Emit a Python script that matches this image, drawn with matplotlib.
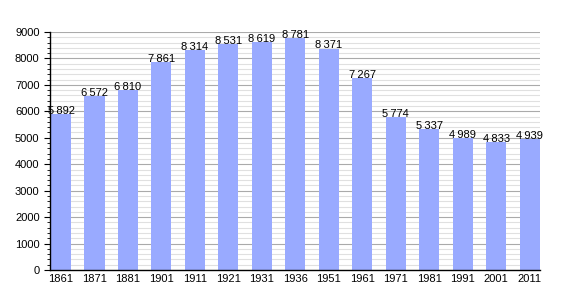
import matplotlib
matplotlib.use("Agg")
import matplotlib.pyplot as plt
import numpy as np
from matplotlib.ticker import MultipleLocator

plt.rcParams["font.family"] = ["Liberation Sans", "DejaVu Sans"]

years = ["1861", "1871", "1881", "1901", "1911", "1921", "1931", "1936",
         "1951", "1961", "1971", "1981", "1991", "2001", "2011"]
population = [5892, 6572, 6810, 7861, 8314, 8531, 8619, 8781,
              8371, 7267, 5774, 5337, 4989, 4833, 4939]

fig = plt.figure(figsize=(5.7, 3.0), dpi=100)
ax = fig.add_axes([50 / 570, 30 / 300, 490 / 570, 238 / 300])

x = np.arange(len(years))
ax.bar(x, population, width=0.6, color="#99aaff", zorder=3)

for xi, v in zip(x, population):
    label = f"{v:,}".replace(",", "\u2009")
    ax.text(xi, v - 70, label, ha="center", va="bottom", fontsize=8,
            color="black", zorder=4)

ax.set_xlim(-0.33, 14.31)
ax.set_ylim(0, 9000)
ax.set_xticks(x)
ax.set_xticklabels(years, fontsize=8)
ax.tick_params(axis="x", length=0, pad=3)

ax.yaxis.set_major_locator(MultipleLocator(1000))
ax.yaxis.set_minor_locator(MultipleLocator(200))
ax.tick_params(axis="y", which="major", length=4, labelsize=8, direction="out")
ax.tick_params(axis="y", which="minor", length=2, direction="out")

ax.grid(axis="y", which="major", color="#aaaaaa", lw=0.8, zorder=0)
ax.grid(axis="y", which="minor", color="#e0e0e0", lw=0.8, zorder=0)

for side in ("top", "right"):
    ax.spines[side].set_visible(False)
ax.spines["left"].set_linewidth(1.0)
ax.spines["bottom"].set_linewidth(1.0)
ax.spines["left"].set_zorder(5)
ax.spines["bottom"].set_zorder(5)

fig.savefig("out.png", dpi=100, facecolor="white")
